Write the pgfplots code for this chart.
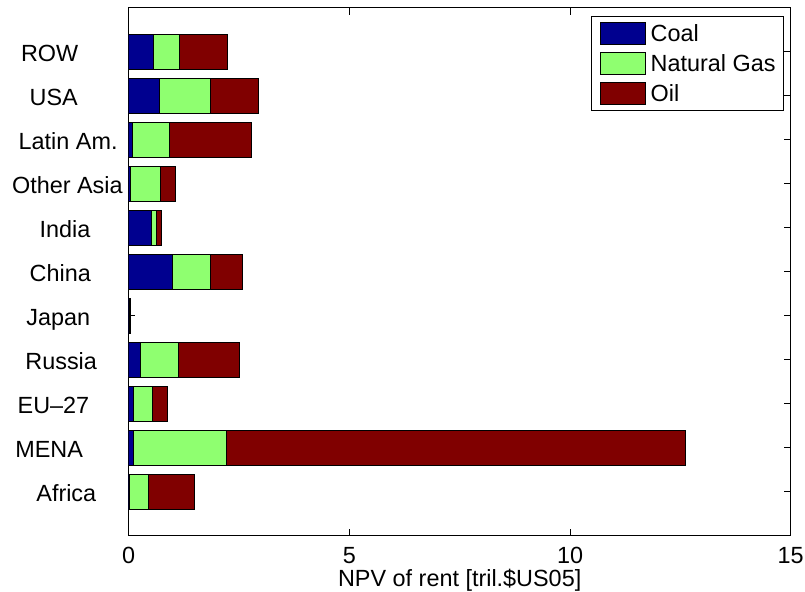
\documentclass[border=0pt]{standalone}
\usepackage{pgfplots}
\pgfplotsset{compat=1.18}
\usepackage{pgfplotstable}
\usepackage{fontspec}
\setmainfont{Liberation Sans}
\definecolor{coalc}{RGB}{0,0,143}
\definecolor{gasc}{RGB}{143,255,112}
\definecolor{oilc}{RGB}{128,0,0}
\pgfplotstableread{
y coal gas oil
1 0.01 0.45 1.04
2 0.10 2.12 10.39
3 0.11 0.44 0.32
4 0.26 0.86 1.38
5 0.01 0.005 0.03
6 0.99 0.87 0.72
7 0.51 0.12 0.11
8 0.04 0.67 0.36
9 0.08 0.85 1.86
10 0.69 1.17 1.09
11 0.56 0.60 1.08
}\datatable
\begin{document}
\begin{tikzpicture}[font=\fontsize{11.7}{14}\selectfont]
\useasboundingbox (-64.35pt,-28pt) rectangle (338.15pt,268pt);
\begin{axis}[
  at={(0,0)}, anchor=south west,
  scale only axis, width=331pt, height=264pt,
  xbar stacked, bar width=0.8,
  xmin=0, xmax=15, ymin=0, ymax=12,
  xtick={0,5,10,15},
  ytick={1,...,11},
  yticklabels={\hspace*{18pt}Africa,\hspace*{7.5pt}MENA,\hspace*{8.65pt}EU–27,\hspace*{12.5pt}Russia,\hspace*{13pt}Japan,\hspace*{14.65pt}China,\hspace*{19.65pt}India,\hspace*{5.85pt}Other Asia,\hspace*{9.15pt}Latin Am.,\hspace*{14.65pt}USA,\hspace*{10.35pt}ROW},
  xtick pos=both, ytick pos=both,
  tick align=inside,
  major tick length=3.3pt,
  tick style={black, line width=0.5pt},
  axis line style={line width=0.5pt},
  /pgf/number format/assume math mode=true,
  yticklabel style={anchor=west, xshift=-64.35pt, inner sep=0pt, text height=8.4pt, text depth=0pt, yshift=-0.5pt},
  xticklabel style={anchor=base, inner sep=0pt, yshift=-13.7pt},
  xlabel={NPV of rent [tril.\$US05]},
  xlabel style={at={(axis description cs:0.5,0)}, anchor=base, inner sep=0pt, yshift=-25.5pt},
  legend cell align=left,
  legend style={at={(rel axis cs:1,1)}, anchor=north east, xshift=-3.35pt, yshift=-4pt,
    draw=black, line width=0.5pt, inner xsep=4pt, inner ysep=2.75pt,
    row sep=3.5pt, column sep=0pt,
    nodes={inner sep=0pt, text height=8.4pt, text depth=0pt, anchor=west},
    /tikz/every odd column/.append style={column sep=2.5pt}},
  legend image code/.code={\draw[#1, line width=0.5pt] (0pt,-5.5pt) rectangle (22.5pt,5.5pt);},
  every axis plot/.append style={draw=black, line width=0.5pt},
]
\addplot[fill=coalc, draw=black] table[x=coal, y=y] {\datatable};
\addplot[fill=gasc, draw=black] table[x=gas, y=y] {\datatable};
\addplot[fill=oilc, draw=black] table[x=oil, y=y] {\datatable};
\legend{Coal, Natural Gas, Oil}
\end{axis}
\end{tikzpicture}
\end{document}
